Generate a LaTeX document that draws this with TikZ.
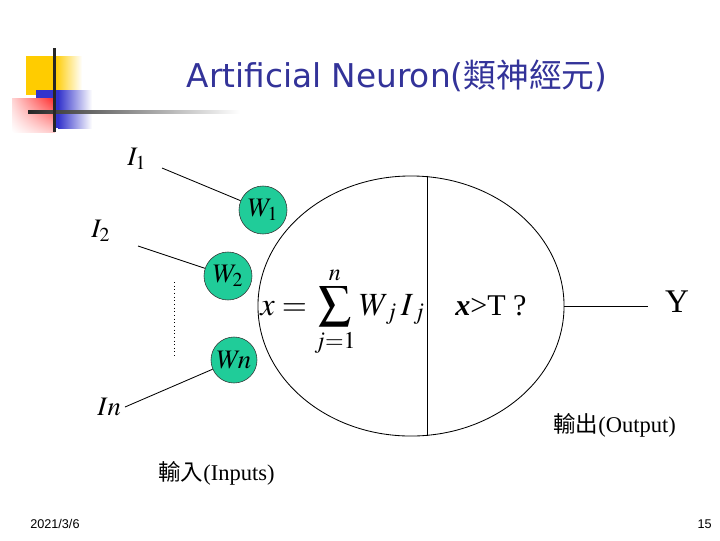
\documentclass[tikz,border=0pt]{standalone}
\usepackage{amsmath}
\usepackage{mathptmx}
\usepackage{fontspec}
\setmainfont{Liberation Serif}
\setsansfont{DejaVu Sans}
\newfontfamily\cjk{Noto Sans CJK TC}
\newfontfamily\footfont{Liberation Sans}
\usetikzlibrary{shapes.geometric, positioning, calc, shadings}
\definecolor{cTitle}{RGB}{51,51,153}
\definecolor{cWeight}{RGB}{32,204,153}
\definecolor{cYellow}{RGB}{255,204,0}
\definecolor{cBlue}{RGB}{51,51,204}
\definecolor{cRed}{RGB}{255,40,40}
\tikzset{
	weight/.style ={circle, draw=black!80, fill=cWeight, minimum size=1.2cm, inner sep=0pt, font=\fontsize{19}{21}\selectfont},
	inlabel/.style={anchor=base west, inner sep=0pt, font=\fontsize{19}{21}\selectfont},
	caption/.style={anchor=base west, inner sep=0pt, font=\fontsize{16}{18}\selectfont},
	wire/.style   ={line width=0.6pt},
	footer/.style ={inner sep=0pt, font=\footfont\fontsize{9}{10}\selectfont},
}

\begin{document}
\begin{tikzpicture}[x=0.025cm, y=-0.025cm]
	\useasboundingbox (0,0) rectangle (720,540);
	% corner logo
	\fill[cYellow] (26,56) rectangle (55,95);
	\shade[left color=cYellow, right color=white] (55,56) rectangle (82,95);
	\fill[cBlue] (36,90) rectangle (58,128);
	\shade[left color=cBlue, right color=white] (58,90) rectangle (92,128);
	\shade[upper right=cRed, upper left=cRed!20, lower right=cRed!25, lower left=white] (12,98) rectangle (55,132);
	\shade[left color=black!85, right color=white] (28,110.5) rectangle (240,113.5);
	\fill[black!85] (52.5,48) rectangle (55.5,132);

	\node[font=\sffamily\fontsize{23.3}{28}\selectfont, text=cTitle, anchor=base] (title) at (397,87) {Artificial Neuron({\cjk 類神經元})};

	\node[ellipse, draw, wire, minimum width=7.65cm, minimum height=6.5cm, inner sep=0pt] (cell) at (411,306) {};
	\coordinate (divx) at (427,0);
	\draw[wire] (cell.north -| divx) -- (cell.south -| divx);

	\node[weight] (w1) at (263,210) {$W_1$};
	\node[weight] (w2) at (228,276) {$W_2$};
	\node[weight, minimum size=1.15cm] (wn) at (234,360) {$W\!n$};

	\node[inlabel] (i1) at (127,165) {$I_1$};
	\node[inlabel] (i2) at (91,237) {$I_2$};
	\node[inlabel] (in) at (97,415) {$In$};
	\coordinate (s1) at (162,168);
	\coordinate (s2) at (138,246);
	\coordinate (sn) at (125,407);
	\draw[wire] (s1) -- (w1);
	\draw[wire] (s2) -- (w2);
	\draw[wire] (sn) -- (wn);
	\coordinate (d1) at (174,282);
	\coordinate (d2) at (174,358);
	\draw[wire, dotted] (d1) -- (d2);

	\node[anchor=base west, inner sep=0pt, font=\fontsize{23}{27}\selectfont] (sum) at (260,315) {$\displaystyle x=\sum_{j=1}^{n}W_{\,j}\,I_{\,j}$};
	\node[anchor=base west, inner sep=0pt, font=\fontsize{21.4}{24}\selectfont] (test) at (455,315) {\textbf{\textit{x}}>T ?};

	\coordinate (yend) at (648,306);
	\node[anchor=base, inner sep=0pt, font=\fontsize{23.5}{26}\selectfont] (out) at (677,312) {Y};
	\draw[wire] (cell.east) -- (yend);

	\node[caption] (outcap) at (553,432) {{\cjk 輸出}(Output)};
	\node[caption] (incap) at (158,480) {{\cjk 輸入}(Inputs)};

	\node[footer, anchor=base west] (date) at (30,528) {2021/3/6};
	\node[footer, anchor=base east] (page) at (712,528) {15};
\end{tikzpicture}
\end{document}
